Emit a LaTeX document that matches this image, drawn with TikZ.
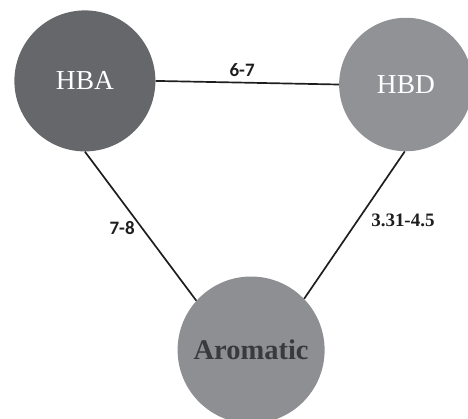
\documentclass[tikz,border=0pt]{standalone}
\usepackage{fontspec}
\setmainfont{Liberation Serif}
\newfontfamily\labelfont{Carlito}
\definecolor{hbagray}{RGB}{102, 103, 107}
\definecolor{hbdgray}{RGB}{145, 146, 150}
\definecolor{aromgray}{RGB}{142, 143, 147}
\definecolor{aromtext}{RGB}{58, 58, 60}
\definecolor{linkblack}{RGB}{30, 30, 30}
\usetikzlibrary{positioning, calc}
\tikzset{
  comp/.style={circle, inner sep=0pt, font=\fontsize{26}{30}\selectfont},
  link/.style={line width=1.6pt, draw=linkblack},
  rangelab/.style={font=\fontsize{18}{20}\selectfont\bfseries, text=linkblack, inner sep=1pt}
}

\begin{document}
\begin{tikzpicture}
  \useasboundingbox (-7.8, -6.967) rectangle (7.8, 6.967);

  % Components
  \node[comp, fill=hbagray, text=white, minimum size=4.7cm] (hba) at (-4.97, 4.27) {HBA};
  \node[comp, fill=hbdgray, text=white, minimum size=4.45cm] (hbd) at (5.73, 4.15) {HBD};
  \node[comp, fill=aromgray, text=aromtext, minimum size=4.9cm, font=\fontsize{27}{30}\selectfont\bfseries] (arom) at (0.57, -4.7) {Aromatic};

  % Links
  \draw[link] (hba.east) -- (hbd.west);
  \draw[link] (hba.south) -- (arom.138);
  \draw[link] (hbd.-91) -- (arom.44);

  % Ranges
  \node[rangelab, font=\labelfont\fontsize{18}{20}\selectfont\bfseries] (r67) at (0.27, 4.63) {6-7};
  \node[rangelab, font=\labelfont\fontsize{18}{20}\selectfont\bfseries] (r78) at (-3.73, -0.63) {7-8};
  \node[rangelab] (r331) at (5.63, -0.37) {3.31-4.5};
\end{tikzpicture}
\end{document}
